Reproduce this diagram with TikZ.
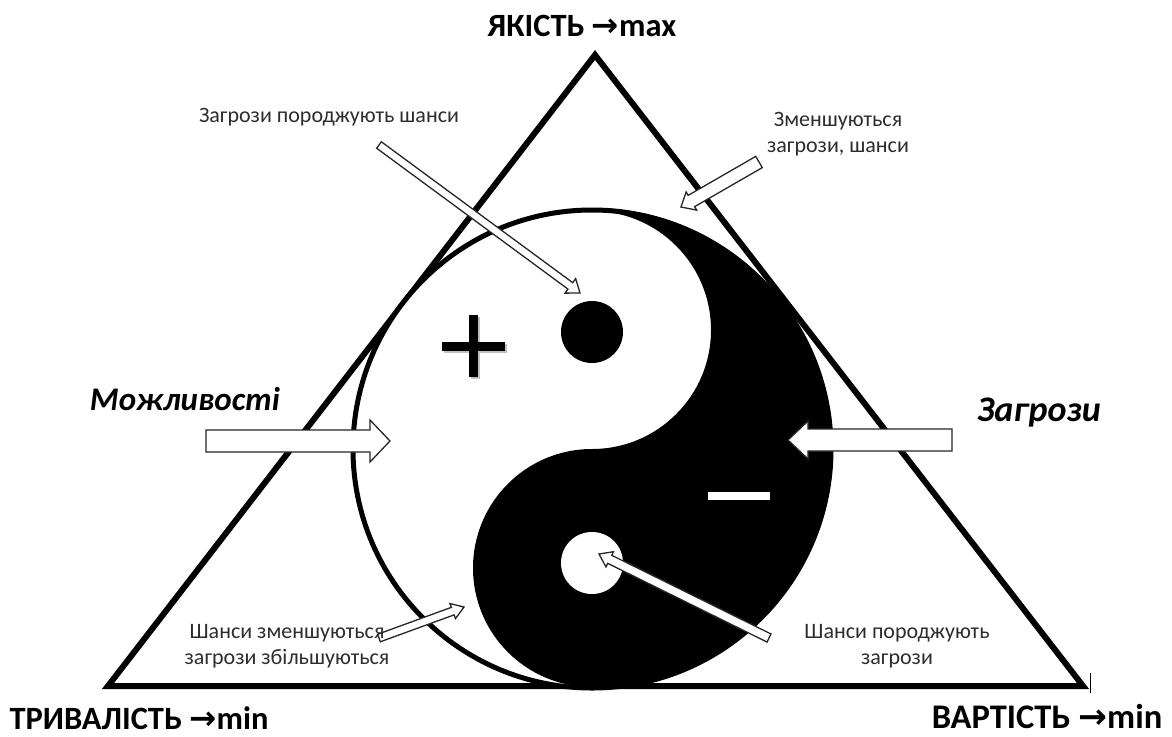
\documentclass[tikz,border=0pt]{standalone}
\usepackage{fontspec}
\usetikzlibrary{calc}
\setmainfont{Carlito}
\newfontfamily\arrowfont{DejaVu Sans}
\definecolor{labelgray}{RGB}{45,45,45}
\tikzset{
  x=1pt,y=-1pt,
  outline/.style={draw=black,line width=6pt,line join=miter},
  ring/.style={draw=black,line width=5pt},
  hollow/.style={draw=black!85,fill=white,line width=1.3pt,line join=miter},
  corner/.style={font=\bfseries\fontsize{32.5}{36}\selectfont,text=black,inner sep=0pt},
  force/.style={font=\bfseries\itshape\fontsize{33}{38}\selectfont,text=black,inner sep=0pt},
  note/.style={font=\fontsize{22}{26.5}\selectfont,text=labelgray,align=center,inner sep=0pt},
}
% hollow block arrow between two named coordinates: {tail}{tip}{half shaft}{half head}{head length}
\newcommand{\blockarrow}[5]{%
  \draw[hollow]
    ($(#1)!#3pt!90:(#2)$) --
    ($($(#2)!#5pt!(#1)$)!#3pt!90:(#2)$) --
    ($($(#2)!#5pt!(#1)$)!#4pt!90:(#2)$) --
    (#2) --
    ($($(#2)!#5pt!(#1)$)!#4pt!-90:(#2)$) --
    ($($(#2)!#5pt!(#1)$)!#3pt!-90:(#2)$) --
    ($(#1)!#3pt!-90:(#2)$) -- cycle;}
\begin{document}
\begin{tikzpicture}
\useasboundingbox (0,0) rectangle (1172,736);
\fill[white] (0,0) rectangle (1172,736);
% triangle
\draw[outline] (595,55) -- (1083,686) -- (108,686) -- cycle;
\draw[black,line width=1pt] (1090,673) -- (1090,693);
% yin-yang
\fill[white] (592,449) circle[radius=239];
\draw[ring] (592,449) circle[radius=239];
\fill[black] (592,208) arc[start angle=-90,end angle=90,radius=241]
  -- (592,687) arc[start angle=90,end angle=270,radius=119]
  arc[start angle=90,end angle=-90,radius=119] -- cycle;
\fill[black] (592,332) circle[radius=31];
\fill[white] (592,563) circle[radius=31];
% plus and minus
\fill[black!25] (444,344) rectangle (507,353);
\fill[black!25] (471,317) rectangle (480,379);
\fill[black] (442,342) rectangle (505,351);
\fill[black] (469,315) rectangle (478,377);
\fill[white] (708,492) rectangle (770,500);
% arrow end points
\coordinate (a1t) at (379,145);
\coordinate (a1h) at (580,293);
\coordinate (a2t) at (759,162);
\coordinate (a2h) at (681,207);
\coordinate (a3t) at (206,441);
\coordinate (a3h) at (390,441);
\coordinate (a4t) at (952,440);
\coordinate (a4h) at (788,440);
\coordinate (a5t) at (379,638);
\coordinate (a5h) at (464,607);
\coordinate (a6t) at (769,638);
\coordinate (a6h) at (599,554);
\blockarrow{a1t}{a1h}{4}{9}{12}
\blockarrow{a2t}{a2h}{6.5}{10.5}{12}
\blockarrow{a3t}{a3h}{11}{21}{20}
\blockarrow{a4t}{a4h}{11}{19}{20}
\blockarrow{a5t}{a5h}{4}{8}{12}
\blockarrow{a6t}{a6h}{4.5}{8.5}{12}
% labels
\node[corner] (top) at (582,26) {ЯКІСТЬ {\arrowfont →}max};
\node[corner] (left) at (139,718) {ТРИВАЛІСТЬ {\arrowfont →}min};
\node[corner,font=\bfseries\fontsize{34.5}{38}\selectfont] (right) at (1047,717) {ВАРТІСТЬ {\arrowfont →}min};
\node[force] (opp) at (185,399) {Можливості};
\node[force,font=\bfseries\itshape\fontsize{36}{38}\selectfont] (thr) at (1039,413) {Загрози};
\node[note] (n1) at (329,117.5) {Загрози породжують шанси};
\node[note] (n2) at (838,134) {Зменшуються\\загрози, шанси};
\node[note] (n3) at (287,646) {Шанси зменшуються\\загрози збільшуються};
\node[note] (n4) at (897,646) {Шанси породжують\\загрози};
\end{tikzpicture}
\end{document}
